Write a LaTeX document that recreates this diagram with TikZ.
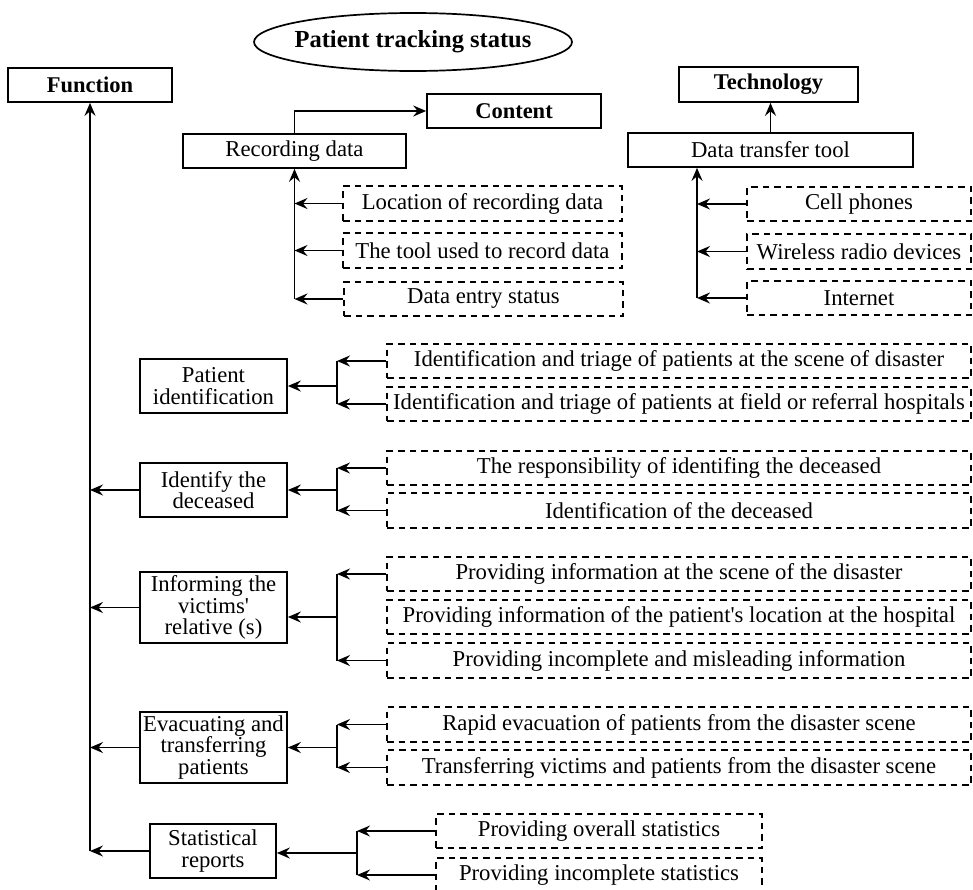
\documentclass[tikz,border=0pt]{standalone}
\usepackage{fontspec}
\setmainfont{Liberation Serif}
\usetikzlibrary{arrows.meta,shapes.geometric,calc}
\begin{document}
\begin{tikzpicture}[x=1pt,y=-1pt,
  every node/.style={font=\fontsize{22.7}{21.5}\selectfont},
  sbox/.style={draw, line width=1.7pt, inner sep=0pt, align=center},
  dbox/.style={draw, line width=1.5pt, dash pattern=on 6.5pt off 5pt, inner sep=0pt},
  sz/.style 2 args={minimum width=#1pt, minimum height=#2pt},
  arr/.style={line width=1.8pt, -{Stealth[length=13pt,width=11pt,inset=4.5pt]}},
  ln/.style={line width=1.8pt},
  hd/.style={font=\fontsize{22.5}{24}\selectfont\bfseries},
  three/.style={font=\fontsize{22.7}{21.2}\selectfont}
]
\useasboundingbox (0,0) rectangle (973,889);

% title
\node[ellipse, draw, line width=1.7pt, sz={318}{58}, inner sep=0pt] (pts) at (413,42)
  {\makebox[0pt]{\fontsize{24.5}{26}\selectfont\bfseries Patient tracking status}};

% headers
\node[sbox, sz={164}{34}, hd] (fun) at (90,85) {Function};
\node[sbox, sz={174}{34}, hd] (con) at (514,111) {Content};
\node[sbox, sz={179}{35}, hd] (tech) at (768.5,84.5) {Technology};

% content branch
\node[sbox, sz={223}{34}] (rec) at (294.5,151) {Recording data};
\node[dbox, sz={279}{35}] (r1) at (482.5,203.5) {Location of recording data};
\node[dbox, sz={279}{35}] (r2) at (482.5,250.5) {The tool used to record data};
\node[dbox, sz={279}{34}] (r3) at (483.5,299) {Data entry status};
\draw[arr] (rec.north) |- (con.west);
\draw[arr] (rec.south |- r3.west) -- (rec.south);
\foreach \n in {r1,r2,r3} \draw[arr] (\n.west) -- (\n.west -| rec.south);

% technology branch
\node[sbox, sz={285}{34}] (dtt) at (770.5,150) {Data transfer tool};
\node[dbox, sz={224}{34}] (t1) at (859,204) {Cell phones};
\node[dbox, sz={224}{35}] (t2) at (859,251.5) {Wireless radio devices};
\node[dbox, sz={224}{34}] (t3) at (859,298) {Internet};
\draw[arr] (dtt.north) -- (dtt.north |- tech.south);
\coordinate (tl) at (697,0);
\draw[arr] (tl |- t3.west) -- (tl |- dtt.south);
\foreach \n in {t1,t2,t3} \draw[arr] (\n.west) -- (\n.west -| tl);

% function groups
\node[sbox, sz={147}{54}] (pi) at (213.5,386) {Patient\\identification};
\node[sbox, sz={147}{54}] (idd) at (213.5,490) {Identify the\\deceased};
\node[sbox, sz={147}{71}, three] (inf) at (213.5,607.5) {Informing the\\victims\textquotesingle\\relative (s)};
\node[sbox, sz={147}{71}, three] (eva) at (213.5,747.5) {Evacuating and\\transferring\\patients};
\node[sbox, sz={126}{54}] (stat) at (213,851) {Statistical\\reports};

\node[dbox, sz={584}{34}] (pi1) at (679,361) {Identification and triage of patients at the scene of disaster};
\node[dbox, sz={584}{34}] (pi2) at (679,404) {Identification and triage of patients at field or referral hospitals};
\node[dbox, sz={584}{34}] (id1) at (679,468) {The responsibility of identifing the deceased};
\node[dbox, sz={584}{35}] (id2) at (679,510.5) {Identification of the deceased};
\node[dbox, sz={584}{34}] (in1) at (679,574) {Providing information at the scene of the disaster};
\node[dbox, sz={584}{34}] (in2) at (679,617) {Providing information of the patient\textquotesingle s location at the hospital};
\node[dbox, sz={584}{35}] (in3) at (679,660.5) {Providing incomplete and misleading information};
\node[dbox, sz={584}{35}] (ev1) at (679,724.5) {Rapid evacuation of patients from the disaster scene};
\node[dbox, sz={584}{35}] (ev2) at (679,767.5) {Transferring victims and patients from the disaster scene};
\node[dbox, sz={326}{34}] (st1) at (599,831) {Providing overall statistics};
\node[dbox, sz={326}{34}] (st2) at (599,875) {Providing incomplete statistics};

\coordinate (bx) at (337,0);
\coordinate (bx2) at (357,0);

% main function line
\draw[arr] (fun.south |- stat.west) -- (fun.south);
\foreach \n in {idd,inf,eva,stat} \draw[arr] (\n.west) -- (\n.west -| fun.south);

% patient identification
\draw[ln] (bx |- pi1.west) -- (bx |- pi2.west);
\foreach \n in {pi1,pi2} \draw[arr] (\n.west) -- (\n.west -| bx);
\draw[arr] (bx |- pi.east) -- (pi.east);

% identify deceased
\draw[ln] (bx |- id1.west) -- (bx |- id2.west);
\foreach \n in {id1,id2} \draw[arr] (\n.west) -- (\n.west -| bx);
\draw[arr] (bx |- idd.east) -- (idd.east);

% informing
\draw[ln] (bx |- in1.west) -- (bx |- in3.west);
\foreach \n in {in1,in3} \draw[arr] (\n.west) -- (\n.west -| bx);
\draw[arr] (bx |- in2.west) -- (in2.west -| inf.east);

% evacuating
\draw[ln] (bx |- ev1.west) -- (bx |- ev2.west);
\foreach \n in {ev1,ev2} \draw[arr] (\n.west) -- (\n.west -| bx);
\draw[arr] (bx |- eva.east) -- (eva.east);

% statistical
\coordinate (stm) at ($(st1.west)!.5!(st2.west)$);
\draw[ln] (bx2 |- st1.west) -- (bx2 |- st2.west);
\foreach \n in {st1,st2} \draw[arr] (\n.west) -- (\n.west -| bx2);
\draw[arr] (stm -| bx2) -- (stm -| stat.east);
\end{tikzpicture}
\end{document}
